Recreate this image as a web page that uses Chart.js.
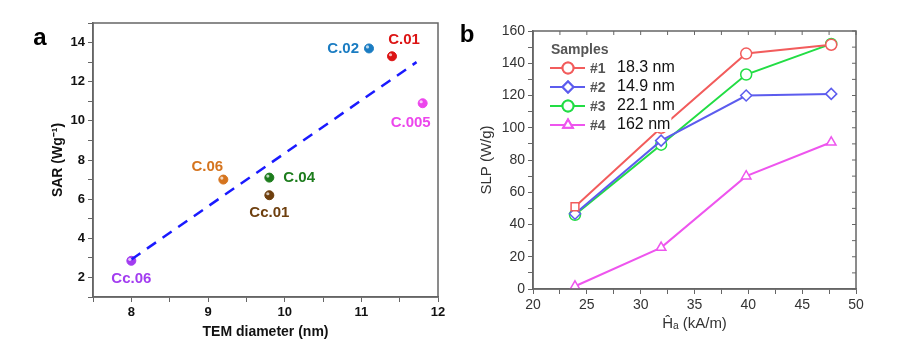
<!DOCTYPE html>
<html>
<head>
<meta charset="utf-8">
<script src="https://cdn.jsdelivr.net/npm/chart.js@4.4.0/dist/chart.umd.min.js"></script>
<style>
body { margin: 0; background: #fff; }
.panel { position: absolute; top: 0; height: 350px; }
</style>
</head>
<body>
<div class="panel" style="left:0;width:460px"><canvas id="chartA"></canvas></div>
<div class="panel" style="left:460px;width:462px"><canvas id="chartB"></canvas></div>
<script>
// panel a data
var sampleNames = ['Cc.06', 'C.06', 'C.04', 'Cc.01', 'C.02', 'C.01', 'C.005'];
var temDiameter = [8.0, 9.2, 9.8, 9.8, 11.1, 11.4, 11.8];
var sarValues = [2.85, 7.0, 7.1, 6.2, 13.7, 13.3, 10.9];
var fitX = [8.0, 11.72];
var fitY = [2.92, 13.0];

// panel b data
var fieldAmp = [23.9, 31.9, 39.8, 47.7];
var slp1 = [51, 100, 146, 151.5];
var slp2 = [46.7, 92, 120, 121];
var slp3 = [46, 89.5, 133, 152];
var slp4 = [1.7, 25.7, 70, 91];
var sampleIds = ['#1', '#2', '#3', '#4'];
var sampleSizes = ['18.3 nm', '14.9 nm', '22.1 nm', '162 nm'];

// styles
var pointColors = ['#a23cf0', '#d5741e', '#1c7c1c', '#6e3f0e', '#1a7cc2', '#dc1414', '#ec46ec'];
var labelPlace = ['below', 'aboveleft', 'right', 'below', 'left', 'aboveright', 'belowleft'];
var seriesColors = ['#f25c5c', '#5c5cee', '#22dd44', '#ee55ee'];
var seriesMarkers = [['rect', 'circle', 'circle', 'circle'], 'rectRot', 'circle', 'triangle'];
var axisColor = '#666';

function toXY(xs, ys) {
    return xs.map(function (x, i) { return { x: x, y: ys[i] }; });
}

// box round the plot + panel letter
function framePlugin(letter, lx, ly, innerTicks) {
    return {
        id: 'frame' + letter,
        afterDraw: function (chart) {
            var c = chart.ctx, a = chart.chartArea;
            c.save();
            c.strokeStyle = axisColor;
            c.lineWidth = 1.5;
            c.strokeRect(a.left, a.top, a.right - a.left, a.bottom - a.top);
            if (innerTicks) {
                c.lineWidth = 1;
                chart.scales.x.ticks.forEach(function (t) {
                    var px = chart.scales.x.getPixelForValue(t.value);
                    c.beginPath(); c.moveTo(px, a.top); c.lineTo(px, a.top + 4); c.stroke();
                });
                chart.scales.y.ticks.forEach(function (t) {
                    var py = chart.scales.y.getPixelForValue(t.value);
                    c.beginPath(); c.moveTo(a.right, py); c.lineTo(a.right - 4, py); c.stroke();
                });
            }
            c.fillStyle = '#000';
            c.font = 'bold 24px Arial';
            c.textAlign = 'center';
            c.textBaseline = 'middle';
            c.fillText(letter, lx, ly);
            c.restore();
        }
    };
}

var pointLabels = {
    id: 'pointLabels',
    afterDatasetsDraw: function (chart) {
        var c = chart.ctx;
        var meta = chart.getDatasetMeta(1);
        c.save();
        c.font = 'bold 15px Arial';
        c.textBaseline = 'middle';
        meta.data.forEach(function (pt, i) {
            var dx = 0, dy = 0, align = 'center';
            switch (labelPlace[i]) {
                case 'below': dy = 18; break;
                case 'aboveleft': dx = -16; dy = -13; break;
                case 'right': dx = 14; align = 'left'; break;
                case 'left': dx = -10; align = 'right'; break;
                case 'aboveright': dx = 12; dy = -16; break;
                case 'belowleft': dx = -12; dy = 20; break;
            }
            // little shine on each ball
            c.fillStyle = 'rgba(255,255,255,0.7)';
            c.beginPath(); c.arc(pt.x - 1.5, pt.y - 1.5, 1.6, 0, Math.PI * 2); c.fill();
            c.fillStyle = pointColors[i];
            c.textAlign = align;
            c.fillText(sampleNames[i], pt.x + dx, pt.y + dy);
        });
        c.restore();
    }
};

var legendB = {
    id: 'legendB',
    afterDraw: function (chart) {
        var c = chart.ctx, a = chart.chartArea;
        var x0 = a.left + 17;
        c.save();
        c.textBaseline = 'middle';
        c.font = 'bold 14px Arial';
        c.fillStyle = '#555';
        c.textAlign = 'left';
        c.fillText('Samples', x0 + 1, 50);
        var rows = [68, 87, 106, 125];
        chart.data.datasets.forEach(function (ds, i) {
            var y = rows[i];
            c.strokeStyle = ds.borderColor;
            c.lineWidth = 2;
            c.beginPath(); c.moveTo(x0, y); c.lineTo(x0 + 35, y); c.stroke();
            c.fillStyle = '#fff';
            var mk = i === 0 ? 'circle' : ds.pointStyle;
            Chart.helpers.drawPoint(c, { pointStyle: mk, radius: 5.5, borderWidth: 1.5, rotation: 0 }, x0 + 18, y);
            c.fill(); c.stroke();
            c.font = 'bold 14px Arial';
            c.fillStyle = '#555';
            c.fillText(sampleIds[i], x0 + 40, y + 1);
            c.font = '16px Arial';
            var w = c.measureText(sampleSizes[i]).width;
            c.fillStyle = '#fff';
            c.fillRect(x0 + 66, y - 8, w + 2, 15);
            c.fillStyle = '#111';
            c.fillText(sampleSizes[i], x0 + 67, y);
        });
        c.restore();
    }
};

new Chart(document.getElementById('chartA'), {
    type: 'scatter',
    data: {
        datasets: [
            {
                type: 'line',
                data: toXY(fitX, fitY),
                borderColor: '#1a1aff',
                borderWidth: 2.5,
                borderDash: [11, 8],
                pointRadius: 0,
                fill: false
            },
            {
                data: toXY(temDiameter, sarValues),
                backgroundColor: pointColors,
                borderColor: pointColors,
                pointRadius: 4.5,
                pointHoverRadius: 4.5
            }
        ]
    },
    options: {
        responsive: true,
        maintainAspectRatio: false,
        animation: false,
        layout: { padding: { left: 46, right: 22, top: 23, bottom: 5 } },
        plugins: { legend: { display: false }, tooltip: { enabled: false } },
        scales: {
            x: {
                type: 'linear', min: 7.5, max: 12,
                ticks: {
                    stepSize: 0.5, color: '#111', font: { family: 'Arial', size: 13, weight: 'bold' },
                    maxRotation: 0, autoSkip: false,
                    callback: function (v) { return v % 1 === 0 ? v : ''; }
                },
                grid: { drawOnChartArea: false, tickLength: 5, color: axisColor },
                border: { color: axisColor, width: 1.5 },
                title: { display: true, text: 'TEM diameter (nm)', color: '#111', font: { family: 'Arial', size: 14, weight: 'bold' } },
                afterFit: function (s) { s.height = 48; }
            },
            y: {
                min: 1, max: 15,
                ticks: {
                    stepSize: 1, color: '#111', font: { family: 'Arial', size: 13, weight: 'bold' }, autoSkip: false,
                    callback: function (v) { return v % 2 === 0 ? v : ''; }
                },
                grid: { drawOnChartArea: false, tickLength: 5, color: axisColor },
                border: { color: axisColor, width: 1.5 },
                title: { display: true, text: 'SAR (Wg\u207B\u00B9)', color: '#111', font: { family: 'Arial', size: 14, weight: 'bold' } },
                afterFit: function (s) { s.width = 47; }
            }
        }
    },
    plugins: [pointLabels, framePlugin('a', 40, 38, false)]
});

var slpSeries = [slp1, slp2, slp3, slp4];
new Chart(document.getElementById('chartB'), {
    type: 'line',
    data: {
        datasets: slpSeries.map(function (vals, i) {
            return {
                label: sampleIds[i],
                data: toXY(fieldAmp, vals),
                borderColor: seriesColors[i],
                borderWidth: 2,
                pointStyle: seriesMarkers[i],
                pointRadius: 5.5,
                pointHoverRadius: 5.5,
                pointBorderWidth: 1.5,
                pointBackgroundColor: '#fff',
                pointBorderColor: seriesColors[i],
                tension: 0,
                fill: false
            };
        })
    },
    options: {
        responsive: true,
        maintainAspectRatio: false,
        animation: false,
        layout: { padding: { left: 14, right: 66, top: 31, bottom: 13 } },
        plugins: { legend: { display: false }, tooltip: { enabled: false } },
        scales: {
            x: {
                type: 'linear', min: 20, max: 50,
                ticks: {
                    stepSize: 2.5, color: '#333', font: { family: 'Arial', size: 14 }, autoSkip: false, maxRotation: 0,
                    callback: function (v) { return v % 5 === 0 ? v : ''; }
                },
                grid: { drawOnChartArea: false, tickLength: 5, color: axisColor },
                border: { color: axisColor, width: 1.5 },
                title: { display: true, text: 'Ĥₐ (kA/m)', color: '#333', font: { family: 'Arial', size: 15 } },
                afterFit: function (s) { s.height = 48; }
            },
            y: {
                min: 0, max: 160,
                ticks: {
                    stepSize: 10, color: '#333', font: { family: 'Arial', size: 14 }, autoSkip: false,
                    callback: function (v) { return v % 20 === 0 ? v : ''; }
                },
                grid: { drawOnChartArea: false, tickLength: 5, color: axisColor },
                border: { color: axisColor, width: 1.5 },
                title: { display: true, text: 'SLP (W/g)', color: '#333', font: { family: 'Arial', size: 15 } },
                afterFit: function (s) { s.width = 59; }
            }
        }
    },
    plugins: [legendB, framePlugin('b', 7, 35, true)]
});
</script>
</body>
</html>
